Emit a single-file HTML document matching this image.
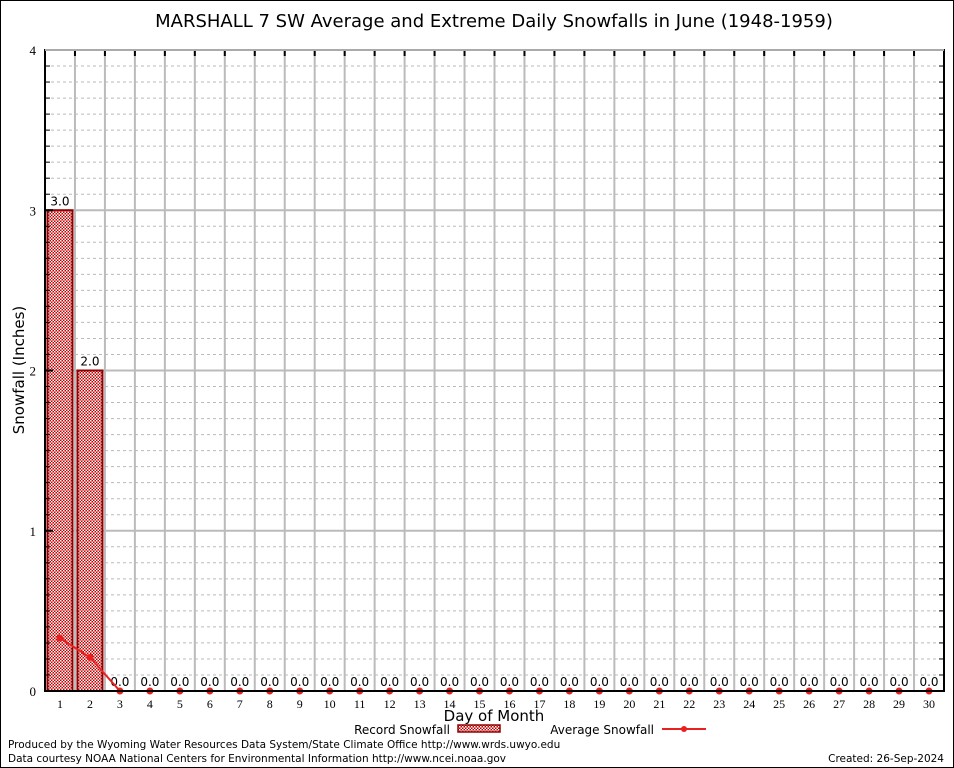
<!DOCTYPE html>
<html><head><meta charset="utf-8"><style>
body{margin:0;background:#fff}
svg{display:block;font-family:"DejaVu Sans","Liberation Sans",sans-serif}
</style></head><body>
<svg id="c" width="954" height="768" viewBox="0 0 954 768">
<defs>
<pattern id="hatch" width="3" height="3" patternUnits="userSpaceOnUse">
<rect width="3" height="3" fill="#c00000"/>
<rect x="0" y="0" width="1.5" height="1.5" fill="#fff"/>
<rect x="1.5" y="1.5" width="1.5" height="1.5" fill="#fff"/>
</pattern>
</defs>
<rect x="0.5" y="0.5" width="953" height="767" fill="#fff" stroke="#000"/>
<text x="494" y="27" font-size="18" text-anchor="middle">MARSHALL 7 SW Average and Extreme Daily Snowfalls in June (1948-1959)</text>
<g id="grid"></g>
<g id="bars"></g>
<g id="avg"></g>
<g id="axes"></g>
<text x="24" y="370" font-size="15" text-anchor="middle" transform="rotate(-90 24 370)">Snowfall (Inches)</text>
<text x="494" y="721" font-size="15" text-anchor="middle">Day of Month</text>
<g>
<text x="450" y="734" font-size="12" text-anchor="end">Record Snowfall</text>
<rect x="458" y="725" width="42" height="7" fill="url(#hatch)" stroke="#900000" stroke-width="1.5"/>
</g>
<g>
<text x="654" y="734" font-size="12" text-anchor="end">Average Snowfall</text>
<line x1="662" y1="729" x2="706" y2="729" stroke="#e82020" stroke-width="2"/>
<circle cx="684" cy="729" r="3" fill="#e82020"/>
</g>
<text x="8" y="748" font-size="10.5">Produced by the Wyoming Water Resources Data System/State Climate Office http://www.wrds.uwyo.edu</text>
<text x="8" y="762" font-size="10.5">Data courtesy NOAA National Centers for Environmental Information http://www.ncei.noaa.gov</text>
<text x="944" y="762" font-size="10.5" text-anchor="end">Created:  26-Sep-2024</text>
</svg>
<script>
const days=[1,2,3,4,5,6,7,8,9,10,11,12,13,14,15,16,17,18,19,20,21,22,23,24,25,26,27,28,29,30];
const recordValues=[3.0,2.0,0,0,0,0,0,0,0,0,0,0,0,0,0,0,0,0,0,0,0,0,0,0,0,0,0,0,0,0];
const averageValues=[0.33,0.21,0,0,0,0,0,0,0,0,0,0,0,0,0,0,0,0,0,0,0,0,0,0,0,0,0,0,0,0];
const yTicks=[0,1,2,3,4];
const NS='http://www.w3.org/2000/svg';
const L=45,R=944,T=50,B=691,yMax=4;
const bw=(R-L)/days.length;
function x(d){return L+(d-0.5)*bw;}
function y(v){return B-(v/yMax)*(B-T);}
function mk(p,tag,a){const e=document.createElementNS(NS,tag);for(const k in a)e.setAttribute(k,a[k]);p.appendChild(e);return e;}
const grid=document.getElementById('grid'),bars=document.getElementById('bars'),avg=document.getElementById('avg'),axes=document.getElementById('axes');
for(let i=1;i<yMax*10;i++){if(i%10===0)continue;const yy=y(i/10);
const g=mk(grid,'line',{x1:L,x2:R,y1:yy,y2:yy,stroke:'#bbb','stroke-dasharray':'3,3'});


mk(axes,'line',{x1:L,x2:L+5,y1:yy,y2:yy,stroke:'#000'});mk(axes,'line',{x1:R-5,x2:R,y1:yy,y2:yy,stroke:'#000'});}
for(let d=1;d<days.length;d++){const xx=L+d*bw;
const g=mk(grid,'line',{x1:xx,x2:xx,y1:T,y2:B,stroke:'#bbb','stroke-width':2});


mk(axes,'line',{x1:xx,x2:xx,y1:T,y2:T+6,stroke:'#000','stroke-width':2});}
yTicks.forEach(v=>{const yy=y(v);
if(v>0&&v<yMax){const g=mk(grid,'line',{x1:L,x2:R,y1:yy,y2:yy,stroke:'#bbb','stroke-width':2});

}
const t=mk(axes,'text',{x:L-9,y:yy+5,'font-size':13,'text-anchor':'end','font-family':'Liberation Serif, serif'});t.textContent=v;


mk(axes,'line',{x1:L,x2:L+8,y1:yy,y2:yy,stroke:'#000','stroke-width':2});});
recordValues.forEach((v,i)=>{const d=days[i];
if(v>0){const r=mk(bars,'rect',{x:x(d)-12.5,y:y(v),width:25,height:B-y(v),fill:'url(#hatch)',stroke:'#900000','stroke-width':2});

}
const t=mk(bars,'text',{x:x(d),y:y(v)-5,'font-size':12,'text-anchor':'middle'});t.textContent=v.toFixed(1);

});
const pts=averageValues.map((v,i)=>x(days[i])+','+y(v)).join(' ');
const pl=mk(avg,'polyline',{points:pts,fill:'none',stroke:'#e82020','stroke-width':2});


averageValues.forEach((v,i)=>{const c=mk(avg,'circle',{cx:x(days[i]),cy:y(v),r:3.5,fill:'#e82020'});

});
mk(axes,'rect',{x:L,y:T,width:R-L,height:B-T,fill:'none',stroke:'#000','stroke-width':2});
mk(axes,'line',{x1:L,x2:R,y1:T,y2:T,stroke:'#aaa','stroke-width':2});
days.forEach(d=>{const t=mk(axes,'text',{x:x(d),y:B+17,'font-size':12,'text-anchor':'middle','font-family':'Liberation Serif, serif'});t.textContent=d;

});
</script>
</body></html>
